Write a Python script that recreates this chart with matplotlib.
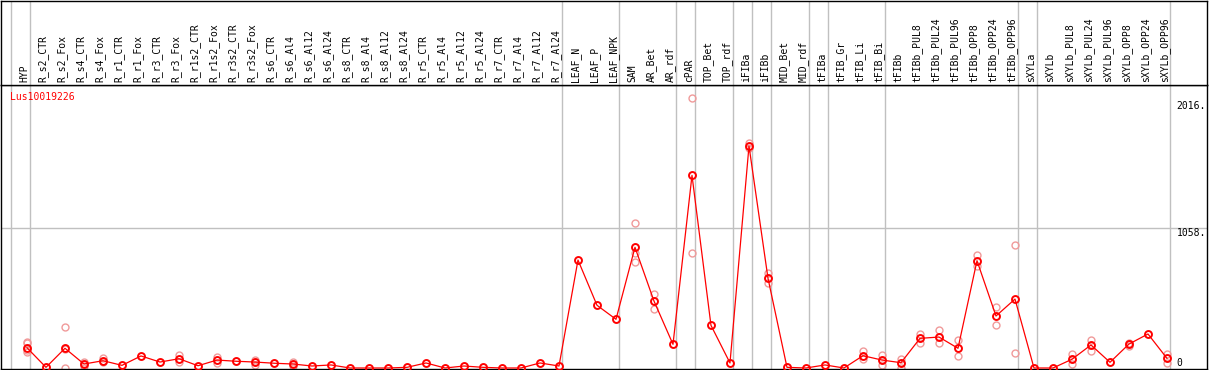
import matplotlib.pyplot as plt

# Etiquetas de las muestras (columnas)
etiquetas = [
    'HYP', 'R_s2_CTR', 'R_s2_Fox', 'R_s4_CTR', 'R_s4_Fox', 'R_r1_CTR', 'R_r1_Fox',
    'R_r3_CTR', 'R_r3_Fox', 'R_r1s2_CTR', 'R_r1s2_Fox', 'R_r3s2_CTR', 'R_r3s2_Fox',
    'R_s6_CTR', 'R_s6_Al4', 'R_s6_Al12', 'R_s6_Al24', 'R_s8_CTR', 'R_s8_Al4',
    'R_s8_Al12', 'R_s8_Al24', 'R_r5_CTR', 'R_r5_Al4', 'R_r5_Al12', 'R_r5_Al24',
    'R_r7_CTR', 'R_r7_Al4', 'R_r7_Al12', 'R_r7_Al24', 'LEAF_N', 'LEAF_P', 'LEAF_NPK',
    'SAM', 'AR_Bet', 'AR_rdf', 'cPAR', 'TOP_Bet', 'TOP_rdf', 'iFIBa', 'iFIBb',
    'MID_Bet', 'MID_rdf', 'tFIBa', 'tFIB_Gr', 'tFIB_Li', 'tFIB_Bi', 'tFIBb',
    'tFIBb_PUL8', 'tFIBb_PUL24', 'tFIBb_PUL96', 'tFIBb_OPP8', 'tFIBb_OPP24',
    'tFIBb_OPP96', 'sXYLa', 'sXYLb', 'sXYLb_PUL8', 'sXYLb_PUL24', 'sXYLb_PUL96',
    'sXYLb_OPP8', 'sXYLb_OPP24', 'sXYLb_OPP96',
]

# Valor medio por muestra
medias = [
    153, 5, 149, 30, 55, 20, 91, 45, 70, 17, 60, 51, 45, 36, 30,
    15, 23, 0, 0, 0, 5, 38, 0, 15, 5, 0, 0, 38, 15,
    816, 474, 368,
    912, 506, 179,
    1456,
    322, 38,
    1678,
    678,
    5, 0,
    23,
    0, 93, 60,
    40, 224, 234, 149, 811, 393, 521,
    0,
    0, 66, 174, 43, 181, 257, 73,
]

# Réplicas visibles (índice de muestra -> valores)
replicas = {
    0: [199, 187, 136, 123], 2: [308, 140, 0], 3: [45, 15], 4: [78, 45],
    8: [98, 45], 10: [83, 38], 12: [60, 23], 14: [45, 15],
    32: [1093, 867, 803], 33: [557, 448], 35: [2038, 867],
    38: [1698, 1660], 39: [720, 645], 44: [131, 68], 45: [98, 23],
    46: [66, 0], 47: [257, 187], 48: [287, 187], 49: [212, 93],
    50: [854, 771], 51: [463, 322], 52: [930, 111], 55: [103, 28],
    56: [212, 128], 58: [190, 165], 60: [106, 36],
}

# Separadores de grupo (después de estos índices)
separadores = [-1, 0, 28, 31, 34, 35, 37, 38, 39, 41, 42, 45, 52, 53, 60]

W, H = 1209, 370


def caja(izq, arriba, der, abajo):
    return [izq / W, 1 - abajo / H, (der - izq) / W, (abajo - arriba) / H]


fig = plt.figure(figsize=(W / 100, H / 100), dpi=100)
ax = fig.add_axes(caja(1, 85, 1207, 369))
ax_et = fig.add_axes(caja(1, 0.5, 1207, 85), sharex=ax)

fuente = 'DejaVu Sans Mono'
x = list(range(len(etiquetas)))

for a in (ax, ax_et):
    for s in a.spines.values():
        s.set_color('black')
        s.set_linewidth(1.0)
    a.set_xticks([])
    a.set_yticks([])
    for sep in separadores:
        a.axvline(sep + 0.16, color='#c0c0c0', lw=1.0, zorder=1)

ax.set_xlim(-1.368, -1.368 + 1206 / 19)
ax.set_ylim(-7.6, 2139)
ax_et.set_ylim(0, 1)

ax.axhline(1058, color='#c0c0c0', lw=1.0, zorder=1)

# Réplicas
for i, vals in replicas.items():
    ax.plot([i] * len(vals), vals, 'o', ms=5, mfc='none', mec='#f09a9a',
            mew=1.0, zorder=2, clip_on=False)

# Serie principal
ax.plot(x, medias, '-', color='red', lw=0.9, zorder=3)
ax.plot(x, medias, 'o', ms=5, mfc='none', mec='red', mew=1.4, zorder=4,
        clip_on=False)

# Etiquetas giradas
for i, et in enumerate(etiquetas):
    ax_et.text(i - 0.15, 0.035, et, rotation=90, ha='center', va='bottom',
               fontsize=7, family=fuente, color='black')

# Valores del eje
ax.text(60.5, 2016, '2016.', ha='left', va='top', fontsize=7, family=fuente)
ax.text(60.5, 1058, '1058.', ha='left', va='top', fontsize=7, family=fuente)
ax.text(60.5, 0, '0', ha='left', va='bottom', fontsize=7, family=fuente)

ax.text(9 / 1206, 1 - 12 / 284, 'Lus10019226', transform=ax.transAxes,
        ha='left', va='center', fontsize=7, family=fuente, color='red')

plt.savefig('out.png', dpi=100)
